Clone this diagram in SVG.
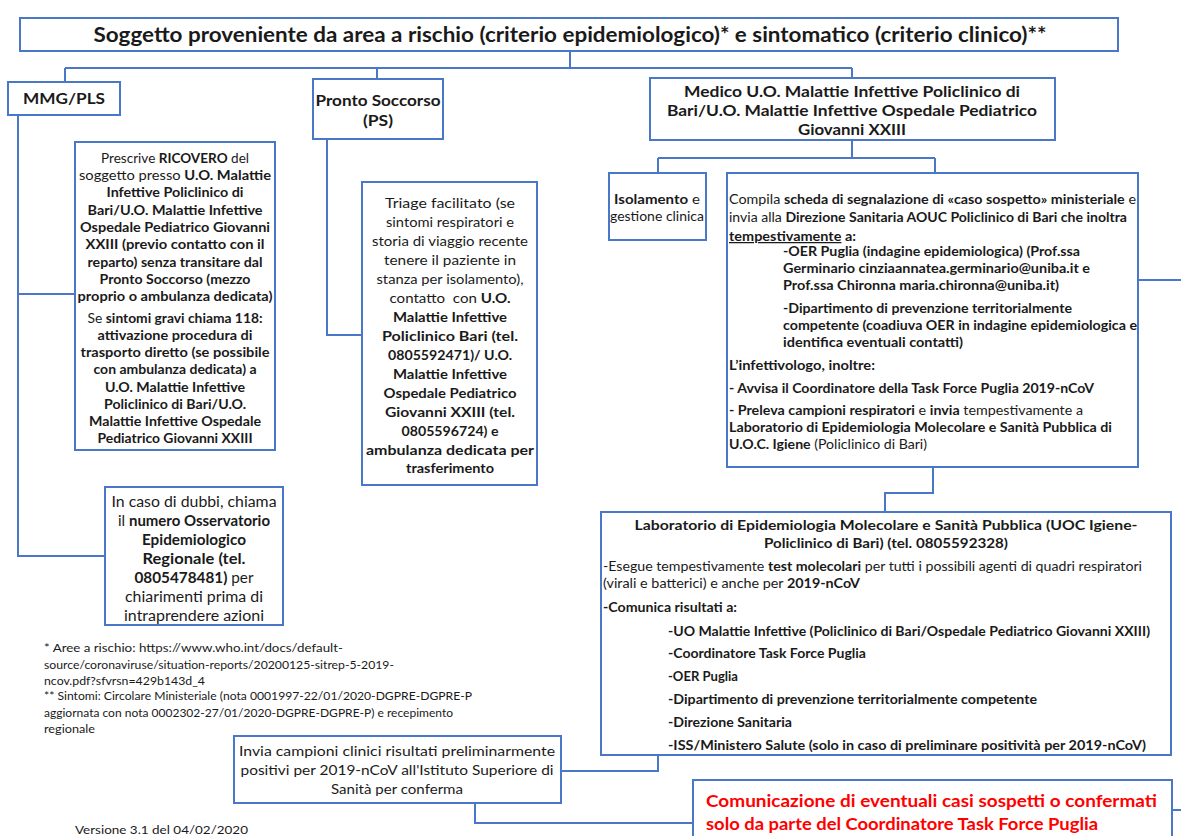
<svg xmlns="http://www.w3.org/2000/svg" width="1181" height="836" viewBox="0 0 1181 836">
<style>
text{font-family:Lato,"Liberation Sans",Arial,sans-serif;fill:#1a1a1a}
.b{font-weight:bold}
.n{font-weight:normal}
.box{fill:#fff;stroke:#4a78c8;stroke-width:2}
.con{fill:none;stroke:#4a78c8;stroke-width:2}
.c{text-anchor:middle}
.red{fill:#ff0000;font-weight:bold}
</style>
<rect width="1181" height="836" fill="#fff"/>
<g id="connectors">
<path class="con" d="M570,51 V68 M65,68 H852 M65,68 V82 M377,68 V79 M852,68 V78"/>
<path class="con" d="M18,115 V556 H105 M18,294 H75"/>
<path class="con" d="M327,139 V335 H362"/>
<path class="con" d="M852,140 V158 M658,158 H935 M658,158 V173 M935,158 V173"/>
<path class="con" d="M1138,280 H1181"/>
<path class="con" d="M933,467 V493 H885 V512"/>
<path class="con" d="M658,755 V771 H561"/>
<path class="con" d="M475,803 V823 H693"/>
<path class="con" d="M1172,810 H1181"/>
</g>
<g id="title">
<rect class="box" x="20" y="18" width="1098" height="33"/>
<text class="b c" x="570" y="42" font-size="20" textLength="953" lengthAdjust="spacingAndGlyphs">Soggetto proveniente da area a rischio (criterio epidemiologico)* e sintomatico (criterio clinico)**</text>
</g>
<g id="mmg">
<rect class="box" x="8" y="82" width="112" height="33"/>
<text class="b c" x="64" y="104" font-size="15" textLength="82" lengthAdjust="spacingAndGlyphs">MMG/PLS</text>
</g>
<g id="prescrive">
<rect class="box" x="75" y="142" width="200" height="308"/>
<g font-size="13" class="c">
<text x="175" y="163" textLength="148" lengthAdjust="spacingAndGlyphs">Prescrive <tspan class="b">RICOVERO</tspan> del</text>
<text x="175" y="180" textLength="192" lengthAdjust="spacingAndGlyphs">soggetto presso <tspan class="b">U.O. Malattie</tspan></text>
<text class="b" x="175" y="197" textLength="137" lengthAdjust="spacingAndGlyphs">Infettive Policlinico di</text>
<text class="b" x="175" y="215" textLength="175" lengthAdjust="spacingAndGlyphs">Bari/U.O. Malattie Infettive</text>
<text class="b" x="175" y="232" textLength="190" lengthAdjust="spacingAndGlyphs">Ospedale Pediatrico Giovanni</text>
<text class="b" x="175" y="249" textLength="179" lengthAdjust="spacingAndGlyphs">XXIII (previo contatto con il</text>
<text class="b" x="175" y="267" textLength="175" lengthAdjust="spacingAndGlyphs">reparto) senza transitare dal</text>
<text class="b" x="175" y="284" textLength="151" lengthAdjust="spacingAndGlyphs">Pronto Soccorso (mezzo</text>
<text class="b" x="175" y="301" textLength="195" lengthAdjust="spacingAndGlyphs">proprio o ambulanza dedicata)</text>
<text x="175" y="323" textLength="175" lengthAdjust="spacingAndGlyphs">Se <tspan class="b">sintomi gravi chiama 118:</tspan></text>
<text class="b" x="175" y="340" textLength="155" lengthAdjust="spacingAndGlyphs">attivazione procedura di</text>
<text class="b" x="175" y="357" textLength="189" lengthAdjust="spacingAndGlyphs">trasporto diretto (se possibile</text>
<text class="b" x="175" y="374" textLength="163" lengthAdjust="spacingAndGlyphs">con ambulanza dedicata) a</text>
<text class="b" x="175" y="392" textLength="140" lengthAdjust="spacingAndGlyphs">U.O. Malattie Infettive</text>
<text class="b" x="175" y="409" textLength="142" lengthAdjust="spacingAndGlyphs">Policlinico di Bari/U.O.</text>
<text class="b" x="175" y="426" textLength="172" lengthAdjust="spacingAndGlyphs">Malattie Infettive Ospedale</text>
<text class="b" x="175" y="443" textLength="155" lengthAdjust="spacingAndGlyphs">Pediatrico Giovanni XXIII</text>
</g>
</g>
<g id="incaso">
<rect class="box" x="105" y="487" width="178" height="138"/>
<g font-size="14.5" class="c">
<text x="194" y="507" textLength="165" lengthAdjust="spacingAndGlyphs">In caso di dubbi, chiama</text>
<text x="194" y="526" textLength="152" lengthAdjust="spacingAndGlyphs">il <tspan class="b">numero Osservatorio</tspan></text>
<text class="b" x="194" y="545" textLength="104" lengthAdjust="spacingAndGlyphs">Epidemiologico</text>
<text class="b" x="194" y="564" textLength="103" lengthAdjust="spacingAndGlyphs">Regionale (tel.</text>
<text x="194" y="583" textLength="119" lengthAdjust="spacingAndGlyphs"><tspan class="b">0805478481)</tspan> per</text>
<text x="194" y="602" textLength="138" lengthAdjust="spacingAndGlyphs">chiarimenti prima di</text>
<text x="194" y="621" textLength="140" lengthAdjust="spacingAndGlyphs">intraprendere azioni</text>
</g>
</g>
<g id="ps">
<rect class="box" x="313" y="79" width="130" height="60"/>
<text class="b c" x="378" y="106" font-size="15" textLength="125" lengthAdjust="spacingAndGlyphs">Pronto Soccorso</text>
<text class="b c" x="378" y="126" font-size="15" textLength="30" lengthAdjust="spacingAndGlyphs">(PS)</text>
</g>
<g id="triage">
<rect class="box" x="362" y="182" width="175" height="303"/>
<g font-size="14" class="c">
<text x="450" y="208" textLength="130" lengthAdjust="spacingAndGlyphs">Triage facilitato (se</text>
<text x="450" y="227" textLength="128" lengthAdjust="spacingAndGlyphs">sintomi respiratori e</text>
<text x="450" y="246" textLength="156" lengthAdjust="spacingAndGlyphs">storia di viaggio recente</text>
<text x="450" y="265" textLength="132" lengthAdjust="spacingAndGlyphs">tenere il paziente in</text>
<text x="450" y="284" textLength="147" lengthAdjust="spacingAndGlyphs">stanza per isolamento),</text>
<text x="450" y="303" textLength="121" lengthAdjust="spacingAndGlyphs">contatto &#160;con <tspan class="b">U.O.</tspan></text>
<text class="b" x="450" y="322" textLength="114" lengthAdjust="spacingAndGlyphs">Malattie Infettive</text>
<text class="b" x="450" y="341" textLength="136" lengthAdjust="spacingAndGlyphs">Policlinico Bari (tel.</text>
<text class="b" x="450" y="360" textLength="124" lengthAdjust="spacingAndGlyphs">0805592471)/ U.O.</text>
<text class="b" x="450" y="379" textLength="114" lengthAdjust="spacingAndGlyphs">Malattie Infettive</text>
<text class="b" x="450" y="398" textLength="133" lengthAdjust="spacingAndGlyphs">Ospedale Pediatrico</text>
<text class="b" x="450" y="417" textLength="130" lengthAdjust="spacingAndGlyphs">Giovanni XXIII (tel.</text>
<text class="b" x="450" y="436" textLength="97" lengthAdjust="spacingAndGlyphs">0805596724) e</text>
<text class="b" x="450" y="455" textLength="168" lengthAdjust="spacingAndGlyphs">ambulanza dedicata per</text>
<text class="b" x="450" y="473" textLength="88" lengthAdjust="spacingAndGlyphs">trasferimento</text>
</g>
</g>
<g id="medico">
<rect class="box" x="650" y="78" width="405" height="62"/>
<g font-size="16" class="b c">
<text x="852" y="97" textLength="336" lengthAdjust="spacingAndGlyphs">Medico U.O. Malattie Infettive Policlinico di</text>
<text x="852" y="116" textLength="370" lengthAdjust="spacingAndGlyphs">Bari/U.O. Malattie Infettive Ospedale Pediatrico</text>
<text x="852" y="135" textLength="108" lengthAdjust="spacingAndGlyphs">Giovanni XXIII</text>
</g>
</g>
<g id="isolamento">
<rect class="box" x="609" y="173" width="97" height="67"/>
<g font-size="12.5" class="c">
<text x="657" y="204" textLength="86" lengthAdjust="spacingAndGlyphs"><tspan class="b">Isolamento</tspan> e</text>
<text x="657" y="221" textLength="94" lengthAdjust="spacingAndGlyphs">gestione clinica</text>
</g>
</g>
<g id="compila">
<rect class="box" x="727" y="173" width="411" height="294"/>
<g font-size="12.5">
<text x="729" y="204" textLength="407" lengthAdjust="spacingAndGlyphs">Compila <tspan class="b">scheda di segnalazione di «caso sospetto» ministeriale</tspan> e</text>
<text x="729" y="222" textLength="398" lengthAdjust="spacingAndGlyphs">invia alla <tspan class="b">Direzione Sanitaria AOUC Policlinico di Bari che inoltra</tspan></text>
<text class="b" x="729" y="241" textLength="127" lengthAdjust="spacingAndGlyphs"><tspan text-decoration="underline">tempestivamente</tspan> a:</text>
<text class="b" x="783" y="256" textLength="297" lengthAdjust="spacingAndGlyphs">-OER Puglia (indagine epidemiologica) (Prof.ssa</text>
<text class="b" x="783" y="273" textLength="307" lengthAdjust="spacingAndGlyphs">Germinario cinziaannatea.germinario@uniba.it e</text>
<text class="b" x="783" y="290" textLength="276" lengthAdjust="spacingAndGlyphs">Prof.ssa Chironna maria.chironna@uniba.it)</text>
<text class="b" x="783" y="313" textLength="289" lengthAdjust="spacingAndGlyphs">-Dipartimento di prevenzione territorialmente</text>
<text class="b" x="783" y="330" textLength="354" lengthAdjust="spacingAndGlyphs">competente (coadiuva OER in indagine epidemiologica e</text>
<text class="b" x="783" y="347" textLength="180" lengthAdjust="spacingAndGlyphs">identifica eventuali contatti)</text>
<text class="b" x="729" y="370" textLength="146" lengthAdjust="spacingAndGlyphs">L’infettivologo, inoltre:</text>
<text class="b" x="729" y="393" textLength="365" lengthAdjust="spacingAndGlyphs">- Avvisa il Coordinatore della Task Force Puglia 2019-nCoV</text>
<text x="729" y="415" textLength="354" lengthAdjust="spacingAndGlyphs"><tspan class="b">- Preleva campioni respiratori</tspan> e <tspan class="b">invia</tspan> tempestivamente a</text>
<text class="b" x="729" y="432" textLength="383" lengthAdjust="spacingAndGlyphs">Laboratorio di Epidemiologia Molecolare e Sanità Pubblica di</text>
<text x="729" y="449" textLength="198" lengthAdjust="spacingAndGlyphs"><tspan class="b">U.O.C. Igiene</tspan> (Policlinico di Bari)</text>
</g>
</g>
<g id="laboratorio">
<rect class="box" x="601" y="512" width="570" height="243"/>
<g font-size="14" class="b c">
<text x="886" y="530" textLength="503" lengthAdjust="spacingAndGlyphs">Laboratorio di Epidemiologia Molecolare e Sanità Pubblica (UOC Igiene-</text>
<text x="886" y="548" textLength="244" lengthAdjust="spacingAndGlyphs">Policlinico di Bari) (tel. 0805592328)</text>
</g>
<g font-size="12.5">
<text x="603" y="571" textLength="539" lengthAdjust="spacingAndGlyphs">-Esegue tempestivamente <tspan class="b">test molecolari</tspan> per tutti i possibili agenti di quadri respiratori</text>
<text x="603" y="588" textLength="257" lengthAdjust="spacingAndGlyphs">(virali e batterici) e anche per <tspan class="b">2019-nCoV</tspan></text>
<text class="b" x="603" y="612" textLength="134" lengthAdjust="spacingAndGlyphs">-Comunica risultati a:</text>
<text class="b" x="668" y="636" textLength="482" lengthAdjust="spacingAndGlyphs">-UO Malattie Infettive (Policlinico di Bari/Ospedale Pediatrico Giovanni XXIII)</text>
<text class="b" x="668" y="658" textLength="198" lengthAdjust="spacingAndGlyphs">-Coordinatore Task Force Puglia</text>
<text class="b" x="668" y="681" textLength="70" lengthAdjust="spacingAndGlyphs">-OER Puglia</text>
<text class="b" x="668" y="704" textLength="369" lengthAdjust="spacingAndGlyphs">-Dipartimento di prevenzione territorialmente competente</text>
<text class="b" x="668" y="727" textLength="124" lengthAdjust="spacingAndGlyphs">-Direzione Sanitaria</text>
<text class="b" x="668" y="750" textLength="478" lengthAdjust="spacingAndGlyphs">-ISS/Ministero Salute (solo in caso di preliminare positività per 2019-nCoV)</text>
</g>
</g>
<g id="footnotes" font-size="11">
<text x="44" y="652" textLength="299" lengthAdjust="spacingAndGlyphs">* Aree a rischio: https://www.who.int/docs/default-</text>
<text x="44" y="669" textLength="350" lengthAdjust="spacingAndGlyphs">source/coronaviruse/situation-reports/20200125-sitrep-5-2019-</text>
<text x="44" y="685" textLength="161" lengthAdjust="spacingAndGlyphs">ncov.pdf?sfvrsn=429b143d_4</text>
<text x="44" y="700" textLength="428" lengthAdjust="spacingAndGlyphs">** Sintomi: Circolare Ministeriale (nota 0001997-22/01/2020-DGPRE-DGPRE-P</text>
<text x="44" y="717" textLength="409" lengthAdjust="spacingAndGlyphs">aggiornata con nota 0002302-27/01/2020-DGPRE-DGPRE-P) e recepimento</text>
<text x="44" y="733" textLength="51" lengthAdjust="spacingAndGlyphs">regionale</text>
</g>
<g id="invia">
<rect class="box" x="234" y="736" width="327" height="67"/>
<g font-size="14" class="c">
<text x="397" y="756" textLength="316" lengthAdjust="spacingAndGlyphs">Invia campioni clinici risultati preliminarmente</text>
<text x="397" y="775" textLength="313" lengthAdjust="spacingAndGlyphs">positivi per 2019-nCoV all'Istituto Superiore di</text>
<text x="397" y="794" textLength="132" lengthAdjust="spacingAndGlyphs">Sanità per conferma</text>
</g>
</g>
<g id="versione">
<text x="75" y="834" font-size="12" textLength="173" lengthAdjust="spacingAndGlyphs">Versione 3.1 del 04/02/2020</text>
</g>
<g id="comunicazione">
<rect class="box" x="693" y="780" width="479" height="70"/>
<text class="red" x="706" y="807" font-size="17" textLength="451" lengthAdjust="spacingAndGlyphs">Comunicazione di eventuali casi sospetti o confermati</text>
<text class="red" x="706" y="830" font-size="17" textLength="392" lengthAdjust="spacingAndGlyphs">solo da parte del Coordinatore Task Force Puglia</text>
</g>
</svg>
